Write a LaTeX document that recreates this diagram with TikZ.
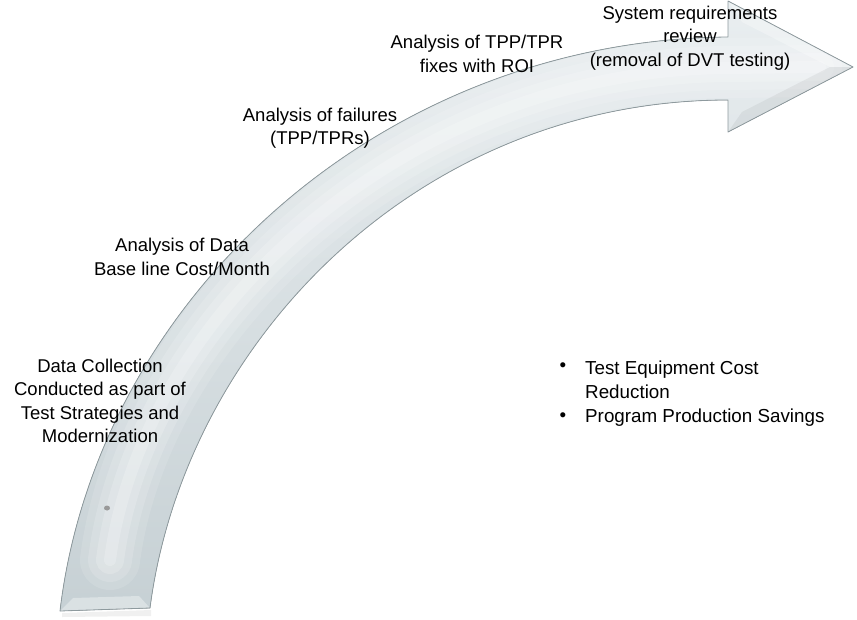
\documentclass[tikz,border=0pt]{standalone}
\usepackage{fontspec}
\setmainfont{Liberation Sans}
\begin{document}
\begin{tikzpicture}[x=1pt,y=-1pt,
  lbl/.style={align=center,font=\fontsize{18.5}{23.5}\selectfont,inner sep=0pt},
  blt/.style={anchor=west,align=left,font=\fontsize{18.8}{23.5}\selectfont,inner sep=0pt},
  rim/.style={draw=arrowrim,line width=0.8pt,line join=round}]
\definecolor{arrowrim}{HTML}{8E9A9E}
\definecolor{arrowlow}{HTML}{C6D0D4}
\definecolor{arrowhigh}{HTML}{E9EEF0}
\useasboundingbox (0,0) rectangle (857,619);
\def\arrowpath{(60,611) .. controls (97,300) and (380,40) .. (728,37) -- (728,1) -- (853,67) -- (728,132) -- (728,100) .. controls (420,100) and (185,340) .. (150,608) -- cycle}
% soft shadow
\fill[black,opacity=0.06] (62,613) -- (151,610) -- (151,616) -- (62,617) -- cycle;
\begin{scope}
  \clip \arrowpath;
  \fill[top color=arrowhigh,bottom color=arrowlow] (0,0) rectangle (857,619);
  \foreach \w/\o in {60/0.12,44/0.15,28/0.18,12/0.2}{
    \draw[white,opacity=\o,line width=\w pt,line cap=round]
      (110,560) .. controls (141,320) and (400,70) .. (728,68) -- (820,67);
  }
  % bevels
  \fill[white,opacity=0.35] (60,611) -- (150,608) -- (139,596) -- (73,598) -- cycle;
  \fill[white,opacity=0.3] (728,1) -- (853,67) -- (830,67) -- (742,22) -- cycle;
  \fill[black,opacity=0.05] (728,132) -- (853,67) -- (830,67) -- (742,112) -- cycle;
\end{scope}
\draw[rim] \arrowpath;
\fill[gray!80] (107,508) ellipse (3 and 2.5);
% labels
\node[lbl] (sys) at (690,38) {System requirements\\review\\(removal of DVT testing)};
\node[lbl] (tpr) at (477,54) {Analysis of TPP/TPR\\fixes with ROI};
\node[lbl] (fail) at (320,128) {Analysis of failures\\(TPP/TPRs)};
\node[lbl] (data) at (182,257) {Analysis of Data\\Base line Cost/Month};
\node[lbl] (coll) at (100,401) {Data Collection\\Conducted as part of\\Test Strategies and\\Modernization};
% bullets
\node[blt] (b1) at (585,380) {Test Equipment Cost\\Reduction};
\node[blt] (b2) at (585,418) {Program Production Savings};
\node[font=\fontsize{18.8}{23.5}\selectfont,inner sep=0pt] (d1) at (563,367) {\textbullet};
\node[font=\fontsize{18.8}{23.5}\selectfont,inner sep=0pt] (d2) at (563,417) {\textbullet};
\end{tikzpicture}
\end{document}
